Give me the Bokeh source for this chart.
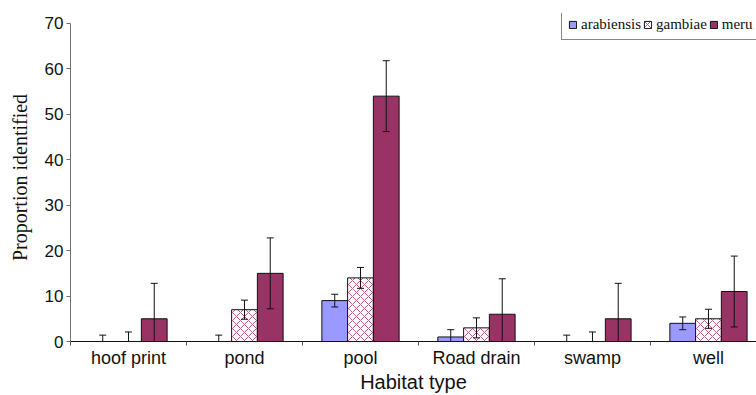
from bokeh.plotting import figure
from bokeh.models import (Range1d, FixedTicker, Whisker, TeeHead, ColumnDataSource,
                          Legend, LegendItem)
from bokeh.embed import file_html
from bokeh.resources import INLINE

habitats = ["hoof print", "pond", "pool", "Road drain", "swamp", "well"]
species = ["arabiensis", "gambiae", "meru"]
arabiensis = [0, 0, 9, 1, 0, 4]
arabiensis_err = [1.4, 1.4, 1.4, 1.6, 1.4, 1.4]
gambiae = [0, 7, 14, 3, 0, 5]
gambiae_err = [2.1, 2.1, 2.3, 2.2, 2.1, 2.1]
meru = [5, 15, 54, 6, 5, 11]
meru_err = [7.8, 7.8, 7.8, 7.8, 7.8, 7.8]
y_ticks = [0, 10, 20, 30, 40, 50, 60, 70]

SANS = "Liberation Sans"
SERIF = "Liberation Serif"

# y range extends a little above 70 so that the legend (which overlaps the
# top of the axis) stays inside the drawing frame; the axis line stops at 70
p = figure(width=756, height=395, output_backend="svg", toolbar_location=None,
           x_range=Range1d(0, 5.914), y_range=Range1d(0, 72.19),
           min_border_left=70, min_border_right=0, min_border_top=13, min_border_bottom=53)
p.outline_line_color = None
p.xgrid.visible = False
p.ygrid.visible = False

bw = 0.222
offsets = [-bw, 0.0, bw]
series = [arabiensis, gambiae, meru]
errs = [arabiensis_err, gambiae_err, meru_err]
styles = [
    dict(fill_color="#9999FF"),
    dict(fill_color="white", hatch_pattern="diagonal_cross", hatch_color="#C0608A",
         hatch_scale=8, hatch_weight=1),
    dict(fill_color="#993366"),
]

renderers = []
for vals, err, off, st in zip(series, errs, offsets, styles):
    xs = [i + 0.5 + off for i in range(len(habitats))]
    src = ColumnDataSource(dict(x=xs, top=vals))
    r = p.vbar(x="x", top="top", width=bw, source=src, line_color="#111111", line_width=1, **st)
    renderers.append(r)
    upper = [v + e for v, e in zip(vals, err)]
    lower = [max(0, v - e) for v, e in zip(vals, err)]
    wsrc = ColumnDataSource(dict(base=xs, upper=upper, lower=lower))
    w = Whisker(source=wsrc, base="base", upper="upper", lower="lower",
                line_color="#111111", line_width=1, level="overlay",
                upper_head=TeeHead(size=7, line_color="#111111", line_width=1),
                lower_head=None)
    p.add_layout(w)
    lx = [x for x, v, e in zip(xs, vals, err) if v - e > 0]
    ly = [v - e for v, e in zip(vals, err) if v - e > 0]
    p.scatter(lx, ly, marker="dash", size=7, line_color="#111111", line_width=1)

# axes
xa = p.xaxis[0]
xa.ticker = FixedTicker(ticks=[i + 0.5 for i in range(len(habitats))],
                        minor_ticks=list(range(len(habitats) + 1)))
xa.major_label_overrides = {i + 0.5: h for i, h in enumerate(habitats)}
xa.major_tick_out = 0
xa.major_tick_in = 0
xa.minor_tick_out = 4
xa.minor_tick_in = 0
xa.minor_tick_line_color = "#555555"
xa.axis_line_color = "#111111"
xa.major_label_text_font = SANS
xa.major_label_text_font_size = "18px"
xa.major_label_text_color = "#111111"
xa.major_label_standoff = 2
xa.axis_label = "Habitat type"
xa.axis_label_text_font = SANS
xa.axis_label_text_font_size = "20px"
xa.axis_label_text_font_style = "normal"
xa.axis_label_text_color = "#111111"
xa.axis_label_standoff = 0

ya = p.yaxis[0]
ya.ticker = FixedTicker(ticks=y_ticks)
ya.bounds = (y_ticks[0], y_ticks[-1])
ya.minor_tick_line_color = None
ya.major_tick_out = 4
ya.major_tick_in = 0
ya.axis_line_color = "#707070"
ya.major_tick_line_color = "#707070"
ya.major_label_text_font = SANS
ya.major_label_text_font_size = "17px"
ya.major_label_text_color = "#111111"
ya.major_label_standoff = 3
ya.axis_label = "Proportion identified"
ya.axis_label_text_font = SERIF
ya.axis_label_text_font_size = "20px"
ya.axis_label_text_font_style = "normal"
ya.axis_label_text_color = "#111111"
ya.axis_label_standoff = 11

legend = Legend(items=[LegendItem(label=s, renderers=[r]) for s, r in zip(species, renderers)],
                location=(491, 301), orientation="horizontal",
                border_line_color="#111111", border_line_width=1,
                background_fill_color="white", background_fill_alpha=1,
                label_text_font=SERIF, label_text_font_size="15px",
                label_text_color="#111111",
                glyph_width=9, glyph_height=9, label_standoff=4, spacing=2,
                padding=6, margin=0, label_height=16)
p.add_layout(legend)

open("out.html", "w").write(file_html(p, INLINE))
